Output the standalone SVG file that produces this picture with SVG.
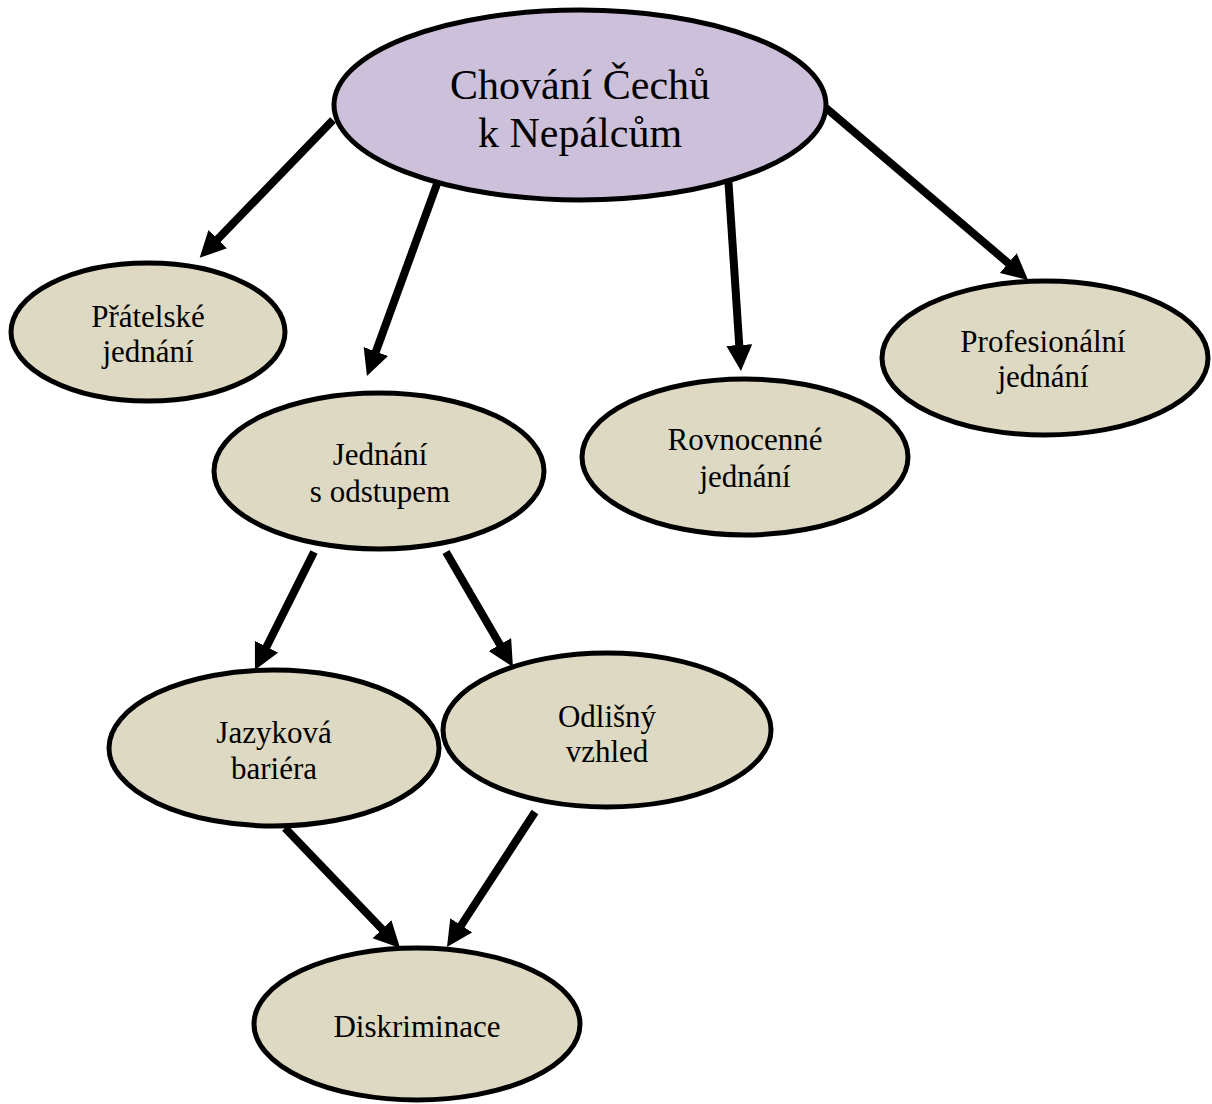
<svg xmlns="http://www.w3.org/2000/svg" width="1212" height="1104" viewBox="0 0 1212 1104">
  <style>
    .node { stroke: #000; stroke-width: 5; }
    .root { fill: #CCC0DA; }
    .leaf { fill: #DDD9C3; }
    .label { font-family: "Liberation Serif", "Times New Roman", serif; fill: #000; text-anchor: middle; }
    .big { font-size: 42px; }
    .small { font-size: 31px; }
    .edge { stroke: #000; stroke-width: 8; fill: none; marker-end: url(#head); }
  </style>
  <defs>
    <marker id="head" markerUnits="userSpaceOnUse" markerWidth="28" markerHeight="28" refX="4" refY="13" orient="auto">
      <path d="M0,0 L26,13 L0,26 z" fill="#000"/>
    </marker>
  </defs>
  <rect width="1212" height="1104" fill="#fff"/>

  <g id="connectors">
    <line class="edge" x1="333" y1="120" x2="215" y2="242"/>
    <line class="edge" x1="445" y1="162" x2="374.5" y2="355.3"/>
    <line class="edge" x1="727" y1="160" x2="739.5" y2="349"/>
    <line class="edge" x1="826" y1="108" x2="1011.3" y2="265.7"/>
    <line class="edge" x1="314" y1="552" x2="264.8" y2="650.3"/>
    <line class="edge" x1="446" y1="552" x2="501.9" y2="648"/>
    <line class="edge" x1="285" y1="828" x2="384.8" y2="932.1"/>
    <line class="edge" x1="535" y1="812" x2="459" y2="928.6"/>
  </g>

  <g id="chovani">
    <ellipse class="node root" cx="580" cy="105" rx="246" ry="95"/>
    <text class="label big" x="580" y="99">Chování Čechů</text>
    <text class="label big" x="580" y="147">k Nepálcům</text>
  </g>

  <g id="pratelske">
    <ellipse class="node leaf" cx="148" cy="332" rx="137" ry="69"/>
    <text class="label small" x="148" y="327">Přátelské</text>
    <text class="label small" x="148" y="362">jednání</text>
  </g>

  <g id="odstup">
    <ellipse class="node leaf" cx="379" cy="471" rx="165" ry="78"/>
    <text class="label small" x="380" y="465">Jednání</text>
    <text class="label small" x="380" y="502">s odstupem</text>
  </g>

  <g id="rovnocenne">
    <ellipse class="node leaf" cx="745" cy="457" rx="163" ry="78"/>
    <text class="label small" x="745" y="450">Rovnocenné</text>
    <text class="label small" x="745" y="487">jednání</text>
  </g>

  <g id="profesionalni">
    <ellipse class="node leaf" cx="1045" cy="358" rx="163" ry="77"/>
    <text class="label small" x="1043" y="352">Profesionální</text>
    <text class="label small" x="1043" y="387">jednání</text>
  </g>

  <g id="jazykova">
    <ellipse class="node leaf" cx="274" cy="748" rx="165" ry="78"/>
    <text class="label small" x="274" y="743">Jazyková</text>
    <text class="label small" x="274" y="779">bariéra</text>
  </g>

  <g id="vzhled">
    <ellipse class="node leaf" cx="607" cy="730" rx="164" ry="77"/>
    <text class="label small" x="607" y="727">Odlišný</text>
    <text class="label small" x="607" y="762">vzhled</text>
  </g>

  <g id="diskriminace">
    <ellipse class="node leaf" cx="417" cy="1024" rx="163" ry="76"/>
    <text class="label small" x="417" y="1037">Diskriminace</text>
  </g>
</svg>
